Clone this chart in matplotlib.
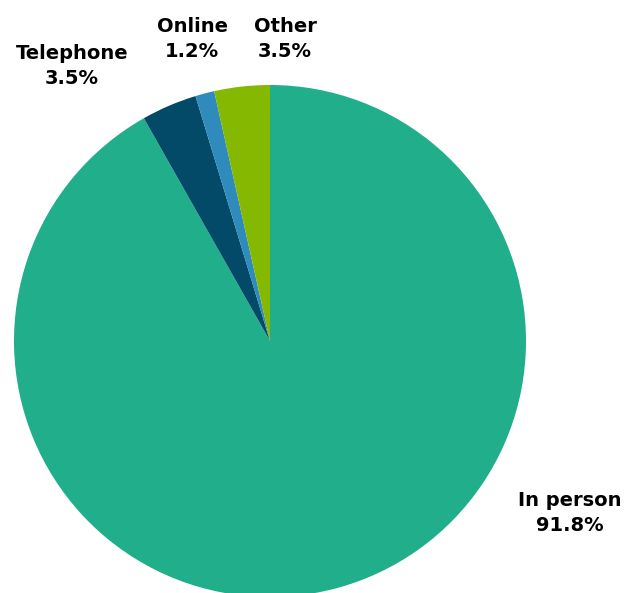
import numpy as np
import matplotlib.pyplot as plt

categories = ["In person", "Telephone", "Online", "Other"]
shares = [91.8, 3.5, 1.2, 3.5]
colors = ["#20ae8b", "#034a69", "#2e8bbb", "#85b800"]

# label anchor points in pixel space (x from left, y from top)
label_pos = [(570, 513), (72, 66), (192, 39), (285, 39)]

W, H = 626, 593
fig = plt.figure(figsize=(W / 100, H / 100), dpi=100)
ax = fig.add_axes([0, 0, 1, 1])

ax.pie(shares, colors=colors, startangle=90, counterclock=False,
       center=(270, H - 341), radius=256,
       wedgeprops=dict(linewidth=0))

for name, val, (px, py) in zip(categories, shares, label_pos):
    ax.text(px, H - py, f"{name}\n{val:.1f}%", ha="center", va="center",
            fontsize=14, fontweight="bold", linespacing=1.4,
            family="DejaVu Sans")

ax.set_xlim(0, W)
ax.set_ylim(0, H)
ax.set_aspect("equal")
ax.axis("off")

fig.savefig("out.png", dpi=100)
